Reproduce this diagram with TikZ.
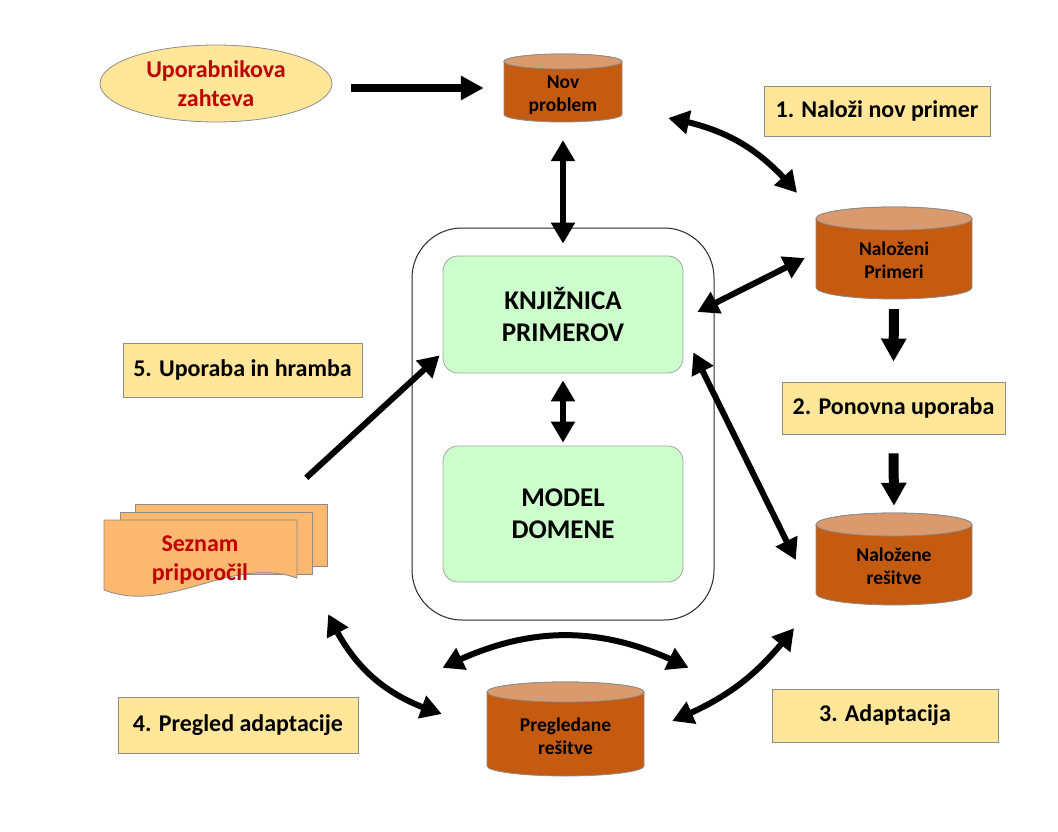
\documentclass[tikz,border=0pt]{standalone}
\usepackage{fontspec}
\setmainfont{Carlito}
\usetikzlibrary{arrows.meta,shapes.geometric,bending}
\definecolor{boxy}{HTML}{FFE699}
\definecolor{cylb}{HTML}{C55A11}
\definecolor{cylt}{HTML}{DA9A6E}
\definecolor{grn}{HTML}{CCFFCC}
\definecolor{drd}{HTML}{C00000}
\definecolor{docf}{HTML}{FBB870}
\definecolor{edge}{HTML}{8C8C8C}
\newcommand\cylnode[7]{%
  \pgfmathsetmacro\cyx{(#2+#3)/2}%
  \pgfmathsetmacro\cyr{(#3-#2)/2}%
  \pgfmathsetmacro\cym{-(#4+#5)/2}%
  \node[draw=none, minimum width=#3-#2, minimum height=#5-#4, inner sep=0pt] (#1) at (\cyx,\cym) {};
  \filldraw[cylbody] (#2,-#4-#6) -- (#2,-#5+#6) arc[start angle=180, end angle=360, x radius=\cyr, y radius=#6] -- (#3,-#4-#6) arc[start angle=0, end angle=180, x radius=\cyr, y radius=#6] -- cycle;
  \filldraw[cyltop] (\cyx,-#4-#6) ellipse[x radius=\cyr, y radius=#6];
  \node[cyltext] (#1-t) at (\cyx,\cym-7) {#7};
}
\begin{document}
\begin{tikzpicture}[x=1pt,y=1pt,
  lbl/.style={draw=edge, fill=boxy, line width=0.8pt, inner sep=0pt, font=\fontsize{24}{28.8}\selectfont\bfseries},
  grnbox/.style={draw=edge!80, fill=grn, line width=0.8pt, rounded corners=15pt, inner sep=0pt, align=center, font=\fontsize{27}{32}\selectfont\bfseries},
  cylbody/.style={draw=edge, line width=0.8pt, fill=cylb},
  cyltop/.style={draw=edge, line width=0.8pt, fill=cylt},
  cyltext/.style={align=center, inner sep=0pt, font=\fontsize{19.5}{23.5}\selectfont\bfseries},
  redtext/.style={align=center, inner sep=0pt, text=drd, font=\fontsize{24}{28.8}\selectfont\bfseries},
  doc/.style={draw=edge, line width=0.8pt, fill=docf},
  dbl/.style={line width=6pt, {Triangle[length=21pt,width=23pt]}-{Triangle[length=21pt,width=23pt]}},
  one/.style={line width=6pt, -{Triangle[length=21pt,width=23pt]}},
  block/.style={line width=10pt, -{Triangle[length=23pt,width=24pt]}},
  bigarr/.style={line width=8pt, -{Triangle[length=23pt,width=23pt]}}
]
\useasboundingbox (0,0) rectangle (1058,-832);

% outer frame and library boxes
\node[draw=black!85, line width=1pt, rounded corners=50pt, minimum width=302, minimum height=392, inner sep=0pt] (lib) at (563,-424) {};
\node[grnbox, minimum width=240, minimum height=117] (kp) at (563,-314.5) {KNJIŽNICA\\PRIMEROV};
\node[grnbox, minimum width=240, minimum height=136] (md) at (563,-514) {MODEL\\DOMENE};

% user request
\node[ellipse, draw=edge, line width=0.8pt, fill=boxy, minimum width=232, minimum height=77, inner sep=0pt, redtext] (ur) at (216,-83.5) {Uporabnikova\\zahteva};

% cylinders
\cylnode{np}{504}{622}{54}{122}{7.5}{Nov\\problem}
\cylnode{nl}{816}{972}{207}{299}{11.5}{Naloženi\\Primeri}
\cylnode{nr}{816}{972}{513}{605}{11.5}{Naložene\\rešitve}
\cylnode{pr}{487}{644}{682}{776}{10}{Pregledane\\rešitve}

% step labels
\node[lbl, minimum width=226, minimum height=50] (b1) at (877,-111) {1. Naloži nov primer};
\node[lbl, minimum width=223, minimum height=52] (b2) at (893.5,-408) {2. Ponovna uporaba};
\node[lbl, minimum width=226, minimum height=53] (b3) at (885,-715.5) {3. Adaptacija};
\node[lbl, minimum width=240, minimum height=56] (b4) at (238,-725) {4. Pregled adaptacije};
\node[lbl, minimum width=239, minimum height=54] (b5) at (242.5,-370) {5. Uporaba in hramba};

% recommendation list (multi-document)
\node[draw=none, minimum width=223, minimum height=94, inner sep=0pt] (sz) at (215.5,-551) {};
\filldraw[doc] (135,-504) rectangle (327,-566);
\filldraw[doc] (120,-512) rectangle (312,-574);
\filldraw[doc] (104,-520) -- (297,-520) -- (297,-578) .. controls (230,-555) and (170,-615) .. (104,-590) -- cycle;
\node[redtext] (sz-t) at (200,-560) {Seznam\\priporočil};

% connectors
\draw[bigarr] ([shift={(19,-4.5)}]ur.east) -- ([shift={(-20,0)}]np.west);
\draw[dbl] ([shift={(46,-30)}]np.east) to[bend left=20] ([shift={(-97,14)}]nl.north);
\draw[dbl] ([yshift=-18]np.south) -- ([yshift=12]kp.north);
\draw[dbl] ([yshift=-7]kp.south) -- ([yshift=3]md.north);
\draw[dbl] ([shift={(-11,-5)}]nl.west) -- ([shift={(14,2.5)}]kp.east);
\draw[block] ([yshift=-10]nl.south) -- ([yshift=20]b2.north);
\draw[block] ([yshift=-19]b2.south) -- ([yshift=7]nr.north);
\draw[dbl] ([shift={(-20,-1)}]nr.west) -- ([shift={(10,21)}]kp.south east);
\draw[dbl] ([shift={(-100,-23)}]nr.south) to[bend left=15] ([shift={(28,8)}]pr.east);
\draw[dbl] ([shift={(-123,14)}]pr.north) to[bend left=27] ([shift={(123,14)}]pr.north);
\draw[dbl] ([shift={(1,-16)}]sz.south east) to[bend right=24] ([shift={(-45,15)}]pr.west);
\draw[one] ([shift={(-21,26)}]sz.north east) -- ([shift={(-3,18)}]kp.south west);
\end{tikzpicture}
\end{document}
